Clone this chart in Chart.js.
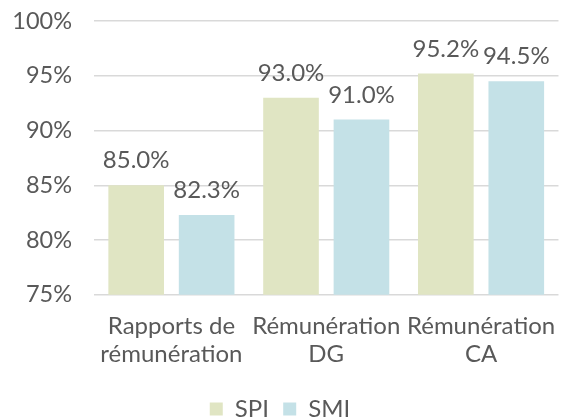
<!DOCTYPE html>
<html>
<head>
<meta charset="utf-8">
<script src="https://cdn.jsdelivr.net/npm/chart.js@4/dist/chart.umd.min.js"></script>
<style>
  html, body { margin: 0; padding: 0; background: #fff; }
  #wrap { width: 565px; height: 419px; position: relative; }
</style>
</head>
<body>
<div id="wrap"><canvas id="chart"></canvas></div>
<script>
// Data
const categories = [['Rapports de', 'rémunération'], ['Rémunération', 'DG'], ['Rémunération', 'CA']];
const seriesNames = ['SPI', 'SMI'];
const spiValues = [85.0, 93.0, 95.2];
const smiValues = [82.3, 91.0, 94.5];
const yTicks = [75, 80, 85, 90, 95, 100];

const textColor = '#595959';
const fontFamily = 'Lato, "Open Sans", sans-serif';
const fontSize = 24;

// Draw value labels above each bar
const barLabels = {
    id: 'barLabels',
    afterDatasetsDraw(chart) {
        const ctx = chart.ctx;
        ctx.save();
        ctx.font = fontSize + 'px ' + fontFamily;
        ctx.fillStyle = textColor;
        ctx.textAlign = 'center';
        ctx.textBaseline = 'alphabetic';
        chart.data.datasets.forEach((ds, i) => {
            chart.getDatasetMeta(i).data.forEach((bar, j) => {
                ctx.fillText(ds.data[j].toFixed(1) + '%', bar.x, bar.y - 17);
            });
        });
        ctx.restore();
    }
};

const ctx = document.getElementById('chart').getContext('2d');
new Chart(ctx, {
    type: 'bar',
    data: {
        labels: categories,
        datasets: [
            {
                label: seriesNames[0],
                data: spiValues,
                backgroundColor: '#e0e5c3',
                categoryPercentage: 0.91,
                barPercentage: 0.79
            },
            {
                label: seriesNames[1],
                data: smiValues,
                backgroundColor: '#c4e1e7',
                categoryPercentage: 0.91,
                barPercentage: 0.79
            }
        ]
    },
    options: {
        responsive: true,
        maintainAspectRatio: false,
        animation: false,
        layout: { padding: { top: 21, right: 5, left: 0, bottom: -12 } },
        plugins: {
            legend: {
                position: 'bottom',
                labels: {
                    color: textColor,
                    font: { family: fontFamily, size: fontSize },
                    boxWidth: 13,
                    boxHeight: 13,
                    padding: 2,
                    generateLabels(chart) {
                        // extra spacing between legend entries
                        return Chart.defaults.plugins.legend.labels.generateLabels(chart)
                            .map((item, i) => Object.assign(item, { text: i === 0 ? item.text + '  ' : item.text }));
                    }
                }
            },
            tooltip: { enabled: false }
        },
        scales: {
            x: {
                grid: { display: false },
                border: { display: false },
                afterFit(axis) {
                    axis.height += 18;
                },
                ticks: {
                    color: textColor,
                    font: { family: fontFamily, size: fontSize, lineHeight: 1.17 },
                    maxRotation: 0,
                    autoSkip: false,
                    padding: 9
                }
            },
            y: {
                min: 75,
                max: 100,
                afterBuildTicks(axis) {
                    axis.ticks = yTicks.map(v => ({ value: v }));
                },
                afterFit(axis) {
                    axis.width = 94;
                    axis.paddingTop = 0;
                    axis.paddingBottom = 0;
                },
                grid: { color: '#d9d9d9', lineWidth: 1.5, drawTicks: false },
                border: { display: false },
                ticks: {
                    color: textColor,
                    font: { family: fontFamily, size: 23.5 },
                    padding: 22,
                    callback: v => v + '%'
                }
            }
        }
    },
    plugins: [barLabels]
});
</script>
</body>
</html>
